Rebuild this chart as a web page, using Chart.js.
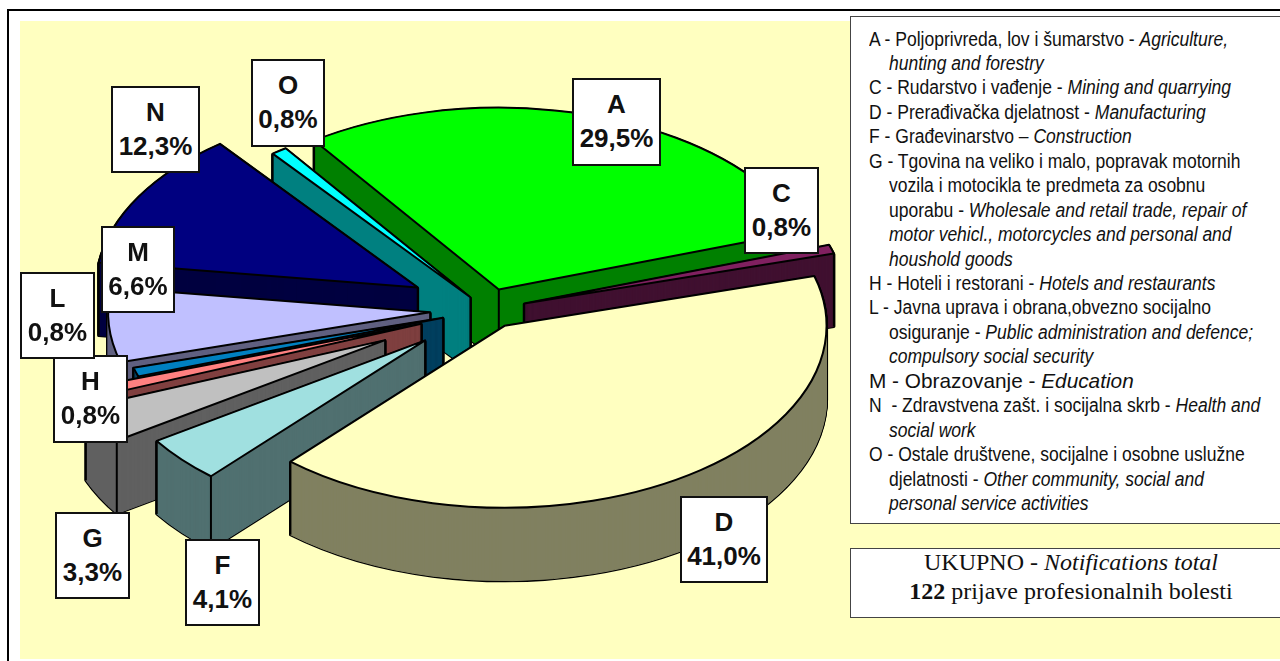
<!DOCTYPE html>
<html>
<head>
<meta charset="utf-8">
<script src="https://cdn.jsdelivr.net/npm/chart.js@4"></script>
<style>
    html, body { margin: 0; padding: 0; background: #fff; overflow: hidden; }
    #stage { position: relative; width: 1280px; height: 661px; overflow: hidden; }
    #frame { position: absolute; left: 7px; top: 9px; width: 1300px; height: 680px; border: 2px solid #000; }
    #plot { position: absolute; left: 20px; top: 21px; width: 1260px; height: 638px; background: #FFFFC0; }
    canvas { position: absolute; left: 0; top: 0; }
    .tag {
        position: absolute; box-sizing: border-box; background: #fff; border: 2px solid #111;
        font: bold 26px/34px "Liberation Sans", Arial, sans-serif; color: #111;
        text-align: center; padding-top: 7px;
    }
    .box { position: absolute; box-sizing: border-box; background: #fff; border: 1px solid #444; }
    .line {
        position: absolute; white-space: pre; color: #111;
        font: 19.5px/24px "Liberation Sans", Arial, sans-serif; transform-origin: 0 0; transform: scaleX(0.898);
    }
    .line.grande { font-size: 20.8px; transform: none; }
    .total {
        position: absolute; left: 850px; width: 442px; text-align: center; white-space: pre; color: #111;
        font: 24px/28px "Liberation Serif", "Times New Roman", serif;
    }
</style>
</head>
<body>
<div id="stage">
    <div id="frame"></div>
    <div id="plot"></div>
    <canvas id="pie" width="974" height="620"></canvas>
    <div class="box" style="left:850px;top:16px;width:440px;height:508px"></div>
    <div class="box" style="left:850px;top:548px;width:440px;height:70px"></div>
    <div class="total" style="top:548px">UKUPNO - <i>Notifications total</i></div>
    <div class="total" style="top:577px"><b>122</b> prijave profesionalnih bolesti</div>
</div>
<script>
const categorias = ['A', 'C', 'D', 'F', 'G', 'H', 'L', 'M', 'N', 'O'];
const valores = [29.5, 0.8, 41.0, 4.1, 3.3, 0.8, 0.8, 6.6, 12.3, 0.8];
const explosao = [38, 39, 33, 82, 115, 70, 46, 57, 80, 28];
const coresTopo = ['#00FF00', '#802060', '#FFFFC0', '#A0E0E0', '#C0C0C0', '#FF8080', '#0080C0', '#C0C0FF', '#000080', '#00FFFF'];
const coresLado = ['#008000', '#401030', '#808060', '#507070', '#606060', '#804040', '#004060', '#606080', '#000040', '#008080'];
const ordemDesenho = [0, 1, 9, 8, 7, 6, 5, 4, 3, 2];

// caixas dos rotulos: esquerda, topo, largura, altura
const caixas = [
    [572, 78, 89, 88], [744, 167, 75, 87], [680, 496, 88, 87], [185, 539, 75, 87], [55, 512, 75, 87],
    [53, 355, 75, 88], [20, 272, 75, 87], [101, 226, 74, 87], [111, 86, 89, 87], [251, 59, 74, 88]
];

const legendaLinhas = [
    ['A - Poljoprivreda, lov i šumarstvo - ', 'Agriculture,', 869],
    ['', 'hunting and forestry', 889],
    ['C - Rudarstvo i vađenje - ', 'Mining and quarrying', 869],
    ['D - Prerađivačka djelatnost - ', 'Manufacturing', 869],
    ['F - Građevinarstvo – ', 'Construction', 869],
    ['G - Tgovina na veliko i malo, popravak motornih', '', 869],
    ['vozila i motocikla te predmeta za osobnu', '', 889],
    ['uporabu - ', 'Wholesale and retail trade, repair of', 889],
    ['', 'motor vehicl., motorcycles and personal and', 889],
    ['', 'houshold goods', 889],
    ['H - Hoteli i restorani - ', 'Hotels and restaurants', 869],
    ['L - Javna uprava i obrana,obvezno socijalno', '', 869],
    ['osiguranje - ', 'Public administration and defence;', 889],
    ['', 'compulsory social security', 889],
    ['M - Obrazovanje - ', 'Education', 869],
    ['N  - Zdravstvena zašt. i socijalna skrb - ', 'Health and', 869],
    ['', 'social work', 889],
    ['O - Ostale društvene, socijalne i osobne uslužne', '', 869],
    ['djelatnosti - ', 'Other community, social and', 889],
    ['', 'personal service activities', 889]
];

const achatamento = 0.565;
const profundidade = 73;

const stage = document.getElementById('stage');

legendaLinhas.forEach(function(l, i) {
    const el = document.createElement('div');
    el.className = l[0].indexOf('M - ') === 0 ? 'line grande' : 'line';
    el.style.left = l[2] + 'px';
    el.style.top = (26.5 + i * 24.45) + 'px';
    el.textContent = l[0];
    if (l[1]) {
        const it = document.createElement('i');
        it.textContent = l[1];
        el.appendChild(it);
    }
    stage.appendChild(el);
});

categorias.forEach(function(c, i) {
    const el = document.createElement('div');
    const b = caixas[i];
    el.className = 'tag';
    el.style.left = b[0] + 'px';
    el.style.top = b[1] + 'px';
    el.style.width = b[2] + 'px';
    el.style.height = b[3] + 'px';
    el.innerHTML = c + '<br>' + valores[i].toFixed(1).replace('.', ',') + '%';
    stage.appendChild(el);
});

function caminhoFatia(ctx, a, dy) {
    ctx.beginPath();
    ctx.moveTo(a.px, a.py + dy);
    ctx.ellipse(a.px, a.py + dy, a.r, a.r * achatamento, 0, a.s, a.e);
    ctx.closePath();
}

function aresta(ctx, x, y) {
    ctx.beginPath();
    ctx.moveTo(x, y);
    ctx.lineTo(x, y + profundidade);
    ctx.stroke();
}

// desenha a pizza em perspectiva a partir dos arcos calculados pelo Chart.js
const pizza3d = {
    id: 'pizza3d',
    beforeDatasetsDraw: function(chart) {
        const ctx = chart.ctx;
        const meta = chart.getDatasetMeta(0);
        ctx.save();
        ctx.lineJoin = 'round';
        ordemDesenho.forEach(function(i) {
            const arc = meta.data[i];
            const p = arc.getProps(['x', 'y', 'startAngle', 'endAngle', 'outerRadius']);
            const meio = (p.startAngle + p.endAngle) / 2;
            const a = {
                px: p.x + Math.cos(meio) * arc.options.offset,
                py: p.y + Math.sin(meio) * arc.options.offset * achatamento,
                r: p.outerRadius,
                s: p.startAngle,
                e: p.endAngle
            };
            // contorno da parede, so a silhueta fica visivel
            ctx.lineWidth = 3;
            ctx.strokeStyle = '#000';
            for (let d = profundidade; d > 0; d--) {
                caminhoFatia(ctx, a, d);
                ctx.stroke();
            }
            ctx.lineWidth = 1;
            ctx.strokeStyle = coresLado[i];
            ctx.fillStyle = coresLado[i];
            for (let d = profundidade; d > 0; d--) {
                caminhoFatia(ctx, a, d);
                ctx.fill();
                ctx.stroke();
            }
            // arestas verticais que o observador enxerga
            ctx.lineWidth = 2;
            ctx.strokeStyle = '#000';
            const paredeIni = Math.cos(a.s) < 0;
            const paredeFim = Math.cos(a.e) > 0;
            if (paredeIni || paredeFim) aresta(ctx, a.px, a.py);
            if (paredeIni || Math.sin(a.s) > 0) {
                aresta(ctx, a.px + Math.cos(a.s) * a.r, a.py + Math.sin(a.s) * a.r * achatamento);
            }
            if (paredeFim || Math.sin(a.e) > 0) {
                aresta(ctx, a.px + Math.cos(a.e) * a.r, a.py + Math.sin(a.e) * a.r * achatamento);
            }
            // topo
            caminhoFatia(ctx, a, 0);
            ctx.fillStyle = arc.options.backgroundColor;
            ctx.fill();
            ctx.stroke();
        });
        ctx.restore();
        return false;
    }
};

new Chart(document.getElementById('pie').getContext('2d'), {
    type: 'pie',
    plugins: [pizza3d],
    data: {
        labels: categorias,
        datasets: [{
            data: valores,
            backgroundColor: coresTopo,
            offset: explosao,
            borderWidth: 0,
            radius: 322
        }]
    },
    options: {
        responsive: false,
        animation: false,
        rotation: -35,
        plugins: {
            legend: { display: false },
            tooltip: { enabled: false }
        }
    }
});
</script>
</body>
</html>
